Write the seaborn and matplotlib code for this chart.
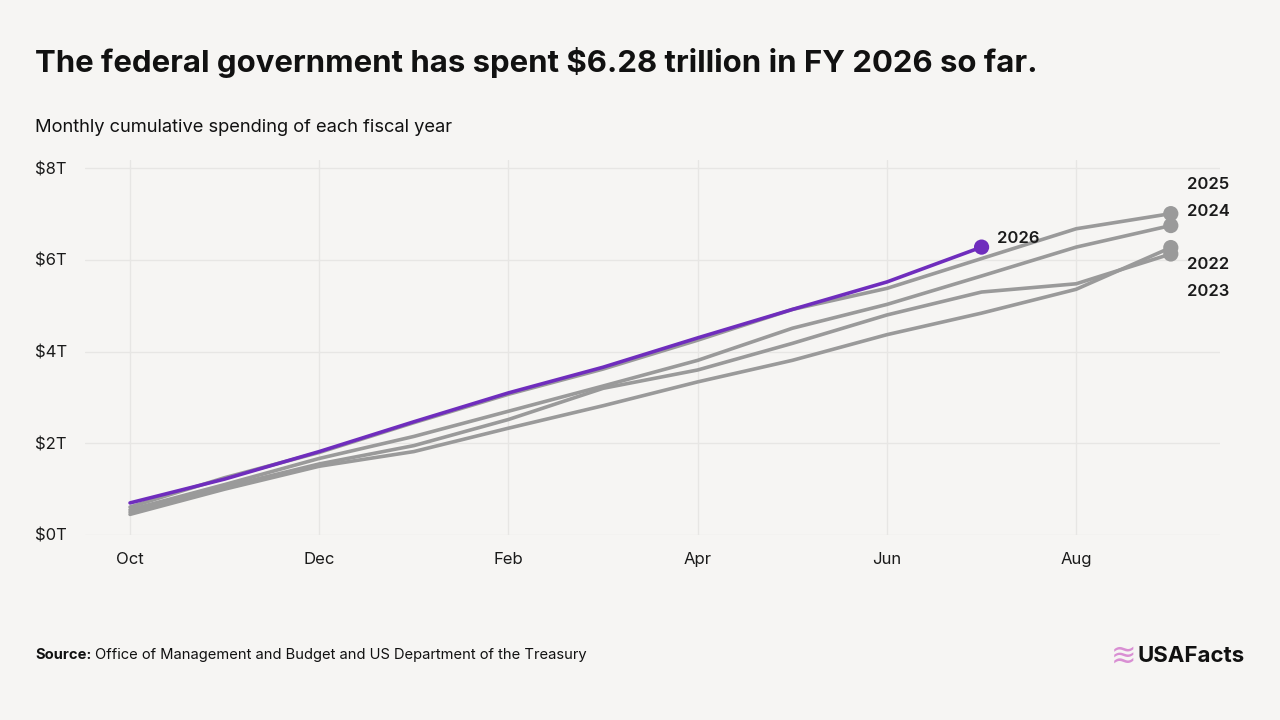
import pandas as pd
import matplotlib
matplotlib.use("Agg")
import matplotlib.pyplot as plt
import seaborn as sns

months = ["Oct", "Nov", "Dec", "Jan", "Feb", "Mar", "Apr", "May", "Jun", "Jul", "Aug", "Sep"]
fy2026 = [0.70, 1.22, 1.82, 2.47, 3.10, 3.66, 4.30, 4.92, 5.52, 6.28]
fy2025 = [0.61, 1.25, 1.80, 2.45, 3.07, 3.62, 4.25, 4.92, 5.38, 6.03, 6.68, 7.01]
fy2024 = [0.55, 1.10, 1.67, 2.15, 2.70, 3.25, 3.81, 4.51, 5.03, 5.65, 6.28, 6.75]
fy2023 = [0.50, 1.05, 1.55, 1.95, 2.52, 3.20, 3.60, 4.18, 4.80, 5.30, 5.48, 6.13]
fy2022 = [0.45, 1.00, 1.50, 1.82, 2.33, 2.82, 3.34, 3.81, 4.37, 4.84, 5.36, 6.27]
y_ticks = [0, 2, 4, 6, 8]
y_labels = ["$0T", "$2T", "$4T", "$6T", "$8T"]
x_ticks = [0, 2, 4, 6, 8, 10]

series = {"2022": fy2022, "2023": fy2023, "2024": fy2024, "2025": fy2025, "2026": fy2026}
rows = []
for yr, vals in series.items():
    for i, v in enumerate(vals):
        rows.append({"year": yr, "m": i, "month": months[i], "value": v})
df = pd.DataFrame(rows)
ends = df.groupby("year").tail(1)

BG = "#f6f5f3"
PURPLE = "#6f2dbd"
GRAY = "#9a9a9a"
palette = {"2022": GRAY, "2023": GRAY, "2024": GRAY, "2025": GRAY, "2026": PURPLE}

sns.set_theme(style="white")
plt.rcParams["font.family"] = ["Inter", "DejaVu Sans"]

fig = plt.figure(figsize=(12.8, 7.2), dpi=100, facecolor=BG)
ax = fig.add_axes([85 / 1280, 185 / 720, 1135 / 1280, 375 / 720])
ax.set_facecolor(BG)

sns.lineplot(data=df, x="m", y="value", hue="year", palette=palette,
             hue_order=["2022", "2023", "2024", "2025", "2026"],
             linewidth=2.6, legend=False, ax=ax, zorder=3)
sns.scatterplot(data=ends, x="m", y="value", hue="year", palette=palette,
                s=120, edgecolor="none", legend=False, ax=ax, zorder=4)

# year labels next to the end points (offsets in points)
offsets = {"2026": (11, 6), "2025": (12, 21), "2024": (12, 10), "2022": (12, -12), "2023": (12, -27)}
for _, r in ends.iterrows():
    ax.annotate(r["year"], (r["m"], r["value"]), xytext=offsets[r["year"]],
                textcoords="offset points", ha="left", va="center",
                fontsize=12, fontweight="semibold", color="#1a1a1a")

ax.set_xlim(-0.476, 11.52)
ax.set_ylim(0, 8.18)
ax.set_xticks(x_ticks)
ax.set_xticklabels([months[i] for i in x_ticks])
ax.set_yticks(y_ticks)
ax.set_yticklabels(y_labels)
ax.grid(True, color="#e7e6e4", linewidth=1)
ax.set_axisbelow(True)
for s in ax.spines.values():
    s.set_visible(False)
ax.tick_params(axis="both", length=0, labelsize=12, colors="#1a1a1a")
ax.tick_params(axis="x", pad=12)
ax.tick_params(axis="y", pad=36)
for lab in ax.get_yticklabels():
    lab.set_horizontalalignment("left")
ax.set_xlabel("")
ax.set_ylabel("")

fig.text(35 / 1280, 1 - 62 / 720, "The federal government has spent $6.28 trillion in FY 2026 so far.",
         fontsize=22.4, fontweight="bold", color="#111111", va="center", ha="left")
fig.text(35 / 1280, 1 - 128 / 720, "Monthly cumulative spending of each fiscal year",
         fontsize=13.2, color="#111111", va="center", ha="left")

src = fig.text(35 / 1280, 1 - 655 / 720, "Source:", fontsize=10.6, fontweight="bold",
               color="#111111", va="center", ha="left")
fig.canvas.draw()
bb = src.get_window_extent()
fig.text((bb.x1 + 4) / 1280, 1 - 655 / 720,
         "Office of Management and Budget and US Department of the Treasury",
         fontsize=10.6, color="#111111", va="center", ha="left")

fig.text(1124 / 1280, 1 - 656 / 720, "\u224b", fontsize=22, color="#d98fd3",
         va="center", ha="center", family=["DejaVu Sans"])
fig.text(1245 / 1280, 1 - 656 / 720, "USAFacts", fontsize=16, fontweight="bold",
         color="#111111", va="center", ha="right")

fig.savefig("out.png", dpi=100, facecolor=BG)
